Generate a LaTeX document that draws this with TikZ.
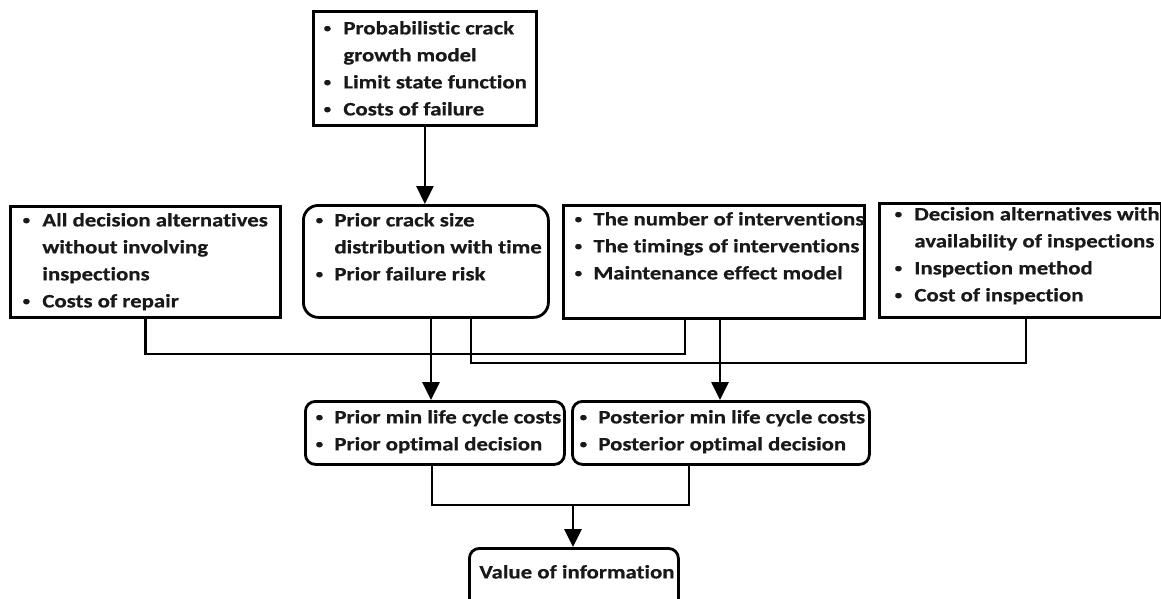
\documentclass[tikz,border=0pt]{standalone}
\usepackage{fontspec}
\setmainfont{Carlito}[FakeStretch=1.2,Ligatures=NoCommon,BoldFeatures={FakeBold=0.6}]
\usetikzlibrary{arrows.meta}
\newcommand\mybullet{\raisebox{2.3pt}{\scalebox{0.65}{\textbullet}}}
\newcommand\bl[3]{\makebox[0pt][l]{\hspace*{#1}\makebox[0pt][c]{\mybullet}}\makebox[0pt][l]{\hspace*{#2}#3}}
\newcommand\cl[2]{\makebox[0pt][l]{\hspace*{#1}#2}}
\newcommand\firstl[1]{\rule{0pt}{#1}}
\tikzset{
  box/.style={draw, line width=2.8pt, inner sep=0pt, anchor=north west,
    font=\fontsize{19}{27}\selectfont\bfseries, text=black!90},
  rbox/.style={box, rounded corners=#1},
  conn/.style={line width=2.7pt},
  arr/.style={conn, -{Triangle[length=18pt,width=17pt]}}
}
\begin{document}
\begin{tikzpicture}[x=1pt,y=-1pt]
\useasboundingbox (0,0) rectangle (1161,598);
\clip (0,0) rectangle (1161,598);
\node[box] (top) at (312,10) {\begin{minipage}[c][114pt][t]{223pt}\firstl{23pt}\bl{14pt}{30pt}{Probabilistic crack}\\
\cl{30pt}{growth model}\\
\bl{14pt}{30pt}{Limit state function}\\
\bl{14pt}{30pt}{Costs of failure}\end{minipage}};
\node[box] (lbox) at (9,205) {\begin{minipage}[c][111pt][t]{270pt}\firstl{20pt}\bl{16pt}{32pt}{All decision alternatives}\\
\cl{32pt}{without involving}\\
\cl{32pt}{inspections}\\
\bl{16pt}{32pt}{Costs of repair}\end{minipage}};
\node[rbox=15pt] (pc) at (302,204) {\begin{minipage}[c][112pt][t]{245pt}\firstl{21pt}\bl{16pt}{31pt}{Prior crack size}\\
\cl{31pt}{distribution with time}\\
\bl{16pt}{31pt}{Prior failure risk}\end{minipage}};
\node[box] (mr) at (562,204) {\begin{minipage}[c][113pt][t]{301pt}\firstl{20pt}\bl{15pt}{30pt}{The number of interventions}\\
\bl{15pt}{30pt}{The timings of interventions}\\
\bl{15pt}{30pt}{Maintenance effect model}\end{minipage}};
\node[box] (rbox) at (878,202) {\begin{minipage}[c][114pt][t]{282pt}\firstl{17pt}\bl{19pt}{35pt}{Decision alternatives with}\\
\cl{35pt}{availability of inspections}\\
\bl{19pt}{35pt}{Inspection method}\\
\bl{19pt}{35pt}{Cost of inspection}\end{minipage}};
\node[rbox=10pt] (pmin) at (304,400) {\begin{minipage}[c][63pt][t]{259pt}\firstl{22pt}\bl{14pt}{29pt}{Prior min life cycle costs}\\
\bl{14pt}{29pt}{Prior optimal decision}\end{minipage}};
\node[rbox=10pt] (post) at (571,400) {\begin{minipage}[c][63pt][t]{297pt}\firstl{22pt}\bl{11pt}{26pt}{Posterior min life cycle costs}\\
\bl{11pt}{26pt}{Posterior optimal decision}\end{minipage}};
\node[rbox=10pt] (val) at (468,547) {\begin{minipage}[c][65pt][t]{209pt}\firstl{30pt}\cl{10pt}{Value of information}\end{minipage}};
\draw[arr] (top.south) -- (top.south |- pc.north);
\draw[conn] (lbox.south) -- (lbox.south |- 0,354) -| (mr.south -| 685,0);
\draw[arr] (pc.south -| 431,0) -- (pmin.north -| 431,0);
\draw[conn] (pc.south -| 471,0) -- (471,363) -| (rbox.south -| 1026,0);
\draw[arr] (mr.south -| 720,0) -- (post.north -| 720,0);
\draw[conn] (pmin.south -| 432,0) -- (432,505) -| (post.south -| 689,0);
\coordinate (j) at (573,505);
\draw[arr] (j) -- (val.north -| j);
\end{tikzpicture}
\end{document}
